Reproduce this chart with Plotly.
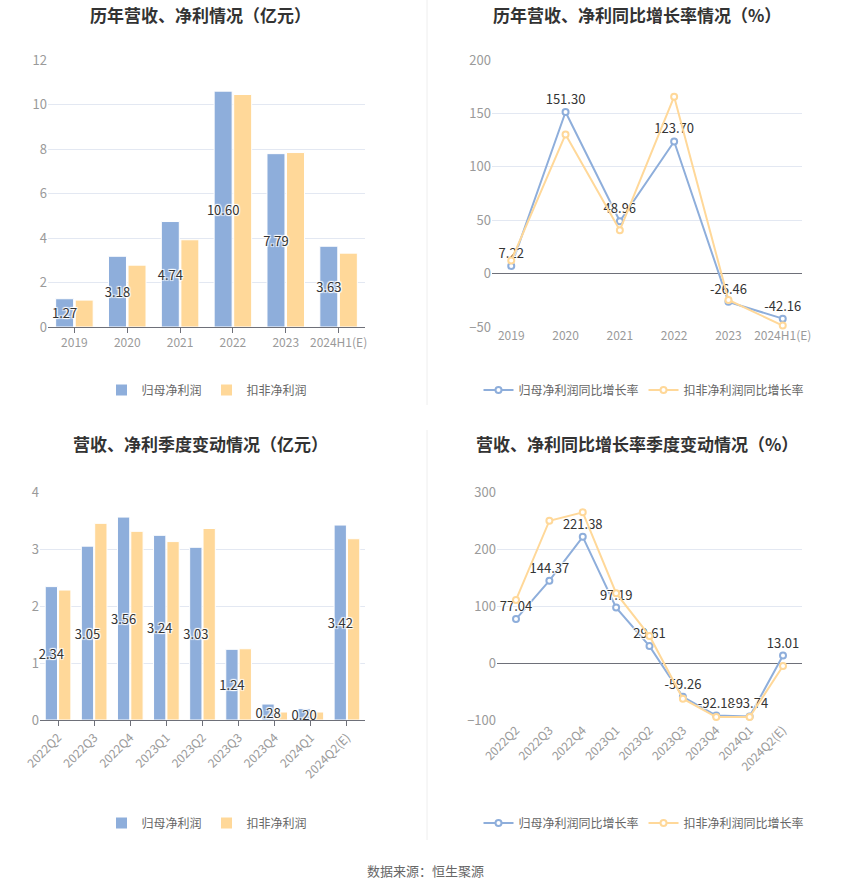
import plotly.graph_objects as go

# ---------------- data ----------------
years = ["2019", "2020", "2021", "2022", "2023", "2024H1(E)"]
np_parent = [1.27, 3.18, 4.74, 10.60, 7.79, 3.63]
np_deduct = [1.21, 2.78, 3.92, 10.45, 7.84, 3.32]

yoy_parent = [7.22, 151.30, 48.96, 123.70, -26.46, -42.16]
yoy_deduct = [12.2, 130.3, 40.6, 165.6, -24.7, -48.7]

quarters = ["2022Q2", "2022Q3", "2022Q4", "2023Q1", "2023Q2", "2023Q3",
            "2023Q4", "2024Q1", "2024Q2(E)"]
q_parent = [2.34, 3.05, 3.56, 3.24, 3.03, 1.24, 0.28, 0.20, 3.42]
q_deduct = [2.28, 3.45, 3.31, 3.13, 3.36, 1.25, 0.14, 0.14, 3.18]

q_yoy_parent = [77.04, 144.37, 221.38, 97.19, 29.61, -59.26, -92.18, -93.74, 13.01]
q_yoy_deduct = [110.7, 249.6, 264.3, 122.5, 47.5, -62.7, -94.9, -94.9, -5.3]

titles = ["历年营收、净利情况（亿元）", "历年营收、净利同比增长率情况（%）",
          "营收、净利季度变动情况（亿元）", "营收、净利同比增长率季度变动情况（%）"]
name_p = "归母净利润"
name_d = "扣非净利润"
name_pr = "归母净利润同比增长率"
name_dr = "扣非净利润同比增长率"
source = "数据来源：恒生聚源"

# ---------------- style ----------------
W, H = 850, 891
BLUE = "#8EAEDB"
ORANGE = "#FFD899"
FONT = "Noto Sans CJK SC"
GRID = "#E3E8F2"
AX = "#6E7079"
TICK = "#9A9A9A"
HALO = "1px 1px 1px #fff, -1px -1px 1px #fff, 1px -1px 1px #fff, -1px 1px 1px #fff"


def px(x):
    return x / W


def py(y):
    return 1 - y / H


fig = go.Figure()


def add_bars(cats, vp, vd, xa, ya, leg):
    fig.add_trace(go.Bar(x=cats, y=vp, name=name_p,
                         marker=dict(color=BLUE, line=dict(color="white", width=1)),
                         xaxis=xa, yaxis=ya, legend=leg, offsetgroup="a"))
    fig.add_trace(go.Bar(x=cats, y=vd, name=name_d,
                         marker=dict(color=ORANGE, line=dict(color="white", width=1)),
                         xaxis=xa, yaxis=ya, legend=leg, offsetgroup="b"))
    # transparent overlay carrying the labels so they sit above the neighbouring bars
    fig.add_trace(go.Bar(x=cats, y=vp, name=name_p, showlegend=False, hoverinfo="skip",
                         marker=dict(color="rgba(0,0,0,0)", line=dict(width=0)),
                         text=[f"{v:.2f}" for v in vp], textposition="inside", insidetextanchor="middle",
                         textangle=0, constraintext="none", cliponaxis=False,
                         insidetextfont=dict(color="#333", size=13, family=FONT, shadow=HALO),
                         xaxis=xa, yaxis=ya, legend=leg, offsetgroup="a"))


def add_lines(cats, vp, vd, xa, ya, leg):
    fig.add_trace(go.Scatter(x=cats, y=vp, name=name_pr, mode="lines+markers+text",
                             line=dict(color=BLUE, width=2),
                             marker=dict(symbol="circle", size=6, color="white", line=dict(color=BLUE, width=2)),
                             text=[f"{v:.2f}" for v in vp], textposition="top center",
                             textfont=dict(color="#333", size=13, family=FONT, shadow=HALO),
                             cliponaxis=False, xaxis=xa, yaxis=ya, legend=leg))
    fig.add_trace(go.Scatter(x=cats, y=vd, name=name_dr, mode="lines+markers",
                             line=dict(color=ORANGE, width=2),
                             marker=dict(symbol="circle", size=6, color="white", line=dict(color=ORANGE, width=2)),
                             cliponaxis=False, xaxis=xa, yaxis=ya, legend=leg))


add_bars(years, np_parent, np_deduct, "x", "y", "legend")
add_lines(years, yoy_parent, yoy_deduct, "x2", "y2", "legend2")
add_bars(quarters, q_parent, q_deduct, "x3", "y3", "legend3")
add_lines(quarters, q_yoy_parent, q_yoy_deduct, "x4", "y4", "legend4")

top_dom = [py(327), py(60)]
bot_dom = [py(720), py(492)]
yr2 = [-50, 200]
yr4 = [-100, 300]


def zero_pos(dom, rng):
    return dom[0] + (0 - rng[0]) / (rng[1] - rng[0]) * (dom[1] - dom[0])


yax_common = dict(showgrid=True, gridcolor=GRID, gridwidth=1, showline=False,
                  tickfont=dict(color=TICK, size=13, family=FONT), ticks="", fixedrange=True)
xbar_common = dict(showgrid=False, showline=True, linecolor=AX, linewidth=1, ticks="outside",
                   ticklen=5, tickcolor=AX, tickfont=dict(color=TICK, size=12, family=FONT), zeroline=False)
xline_common = dict(showgrid=False, showline=False, ticks="", tickfont=dict(color=TICK, size=12, family=FONT),
                    zeroline=False)
xtick_only = dict(type="linear", showgrid=False, showline=False, zeroline=False, showticklabels=False,
                  ticks="outside", ticklen=5, tickcolor=AX, anchor="free", fixedrange=True)

fig.update_layout(
    width=W, height=H, margin=dict(l=0, r=0, t=0, b=0, autoexpand=False),
    paper_bgcolor="white", plot_bgcolor="white",
    font=dict(family=FONT, color="#333"),
    barmode="group", bargap=0.26, bargroupgap=0.08,
    xaxis=dict(domain=[px(48), px(365)], anchor="y", **xbar_common),
    yaxis=dict(domain=top_dom, anchor="x", range=[0, 12], dtick=2, zeroline=False, **yax_common),
    xaxis2=dict(domain=[px(492), px(802)], anchor="y2", **xline_common),
    yaxis2=dict(domain=top_dom, anchor="x2", range=yr2, dtick=50,
                zeroline=True, zerolinecolor=AX, zerolinewidth=1, **yax_common),
    xaxis3=dict(domain=[px(40), px(365)], anchor="y3", tickangle=-45, **xbar_common),
    yaxis3=dict(domain=bot_dom, anchor="x3", range=[0, 4], dtick=1, zeroline=False, **yax_common),
    xaxis4=dict(domain=[px(497), px(802)], anchor="y4", tickangle=-45, **xline_common),
    yaxis4=dict(domain=bot_dom, anchor="x4", range=yr4, dtick=100,
                zeroline=True, zerolinecolor=AX, zerolinewidth=1, **yax_common),
    # tick marks hanging below the zero line of the rate charts
    xaxis5=dict(overlaying="x2", domain=[px(492), px(802)], position=zero_pos(top_dom, yr2),
                range=[-0.5, len(years) - 0.5], tickvals=list(range(len(years))), **xtick_only),
    xaxis6=dict(overlaying="x4", domain=[px(497), px(802)], position=zero_pos(bot_dom, yr4),
                range=[-0.5, len(quarters) - 0.5], tickvals=list(range(len(quarters))), **xtick_only),
)

leg_common = dict(orientation="h", xanchor="center", yanchor="middle", bgcolor="rgba(0,0,0,0)",
                  font=dict(color="#666", size=12, family=FONT), itemwidth=30, tracegroupgap=0)
fig.update_layout(
    legend=dict(x=px(207), y=py(390), **leg_common),
    legend2=dict(x=px(644), y=py(390), **leg_common),
    legend3=dict(x=px(207), y=py(823), **leg_common),
    legend4=dict(x=px(644), y=py(823), **leg_common),
)

# titles
for t, (cx, cy) in zip(titles, [(200, 14), (637, 14), (200, 444), (637, 444)]):
    fig.add_annotation(text=f"<b>{t}</b>", x=px(cx), y=py(cy), xref="paper", yref="paper",
                       xanchor="center", yanchor="middle", showarrow=False,
                       font=dict(size=17, color="#333", family=FONT))

fig.add_annotation(text=source, x=px(425), y=py(870), xref="paper", yref="paper",
                   xanchor="center", yanchor="middle", showarrow=False,
                   font=dict(size=13, color="#666", family=FONT))

# divider line
fig.add_shape(type="line", xref="paper", yref="paper", x0=px(427), x1=px(427), y0=py(0), y1=py(405),
              line=dict(color="#EEEEEE", width=1))
fig.add_shape(type="line", xref="paper", yref="paper", x0=px(427), x1=px(427), y0=py(430), y1=py(840),
              line=dict(color="#EEEEEE", width=1))

fig.write_html("out.html")
